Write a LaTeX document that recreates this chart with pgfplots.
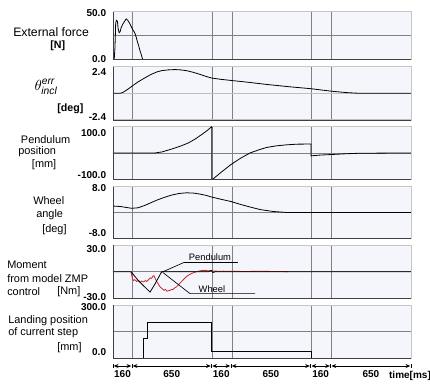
\documentclass[border=0pt]{standalone}
\usepackage{fontspec}
\setmainfont{Liberation Sans}
\usepackage{pgfplots}
\pgfplotsset{compat=1.18}
\usetikzlibrary{arrows.meta}
\definecolor{bgc}{RGB}{244,246,252}
\definecolor{gridc}{RGB}{128,128,128}
\definecolor{redc}{RGB}{200,40,40}
\pgfplotsset{
 panel/.style={
   scale only axis, width=223.5pt, xmin=0, xmax=2430,
   xtick={160,810,970,1620,1780}, xticklabels={}, yticklabels={},
   xmajorgrids, ymajorgrids,
   grid style={gridc, line width=0.5pt},
   major tick length=0pt,
   axis line style={draw=gray!45, line width=0.5pt},
   axis background/.style={fill=bgc},
   anchor=north west,
   after end axis/.code={\draw[black!75, line width=0.6pt] (rel axis cs:0,1) -- (rel axis cs:0,0) -- (rel axis cs:1,0);},
 },
 lab/.style n args={4}{
   after end axis/.append code={
     \node[anchor=east, inner sep=0pt, xshift=-5pt, yshift=#2, font=\fontsize{7.5}{8}\selectfont\bfseries] at (rel axis cs:0,0) {#1};
     \node[anchor=east, inner sep=0pt, xshift=-5pt, yshift=#4, font=\fontsize{7.5}{8}\selectfont\bfseries] at (rel axis cs:0,1) {#3};
   }},
 dl/.style={black, line width=0.6pt, no markers},
}
\begin{document}
\begin{tikzpicture}
% Panel 1: external force
\begin{axis}[panel, lab={0.0}{0pt}{50.0}{-1pt}, at={(84.75pt,-8.775pt)}, height=35.7pt, ymin=0, ymax=50,
  ytick={0,25,50}]
\addplot[dl] coordinates {(0,0)(10,0)(16,12)(22,38)(28,41)(36,40)(42,32)(50,28)(58,29)(66,33)(80,37)(95,40)(108,42.5)(120,41)(135,38)(150,34)(162,31)(172,29)(180,27)(192,22)(200,18)(208,15)(218,10)(228,6)(237,2)(242,0)};
\end{axis}
% Panel 2: theta err
\begin{axis}[panel, lab={-2.4}{1.9pt}{2.4}{-3.75pt}, at={(84.75pt,-50pt)}, height=40pt, ymin=-2.4, ymax=2.4,
  ytick={-2.4,0,2.4}, y grid style={gray!50, line width=1.1pt}]
\addplot[dl] coordinates {(0,0)(57,0)(80,0.08)(98,0.2)(125,0.4)(152,0.62)(200,1.0)(261,1.4)(310,1.7)(356,1.92)(400,2.05)(450,2.11)(506,2.14)(550,2.11)(600,2.04)(652,1.9)(700,1.74)(760,1.52)(803,1.38)(880,1.26)(962,1.16)(1100,1.0)(1253,0.8)(1450,0.58)(1612,0.42)(1700,0.3)(1775,0.2)(1900,0.07)(2014,0)(2430,0)};
\end{axis}
% Panel 3: pendulum position
\begin{axis}[panel, lab={-100.0}{3.2pt}{100.0}{-4.5pt}, at={(84.75pt,-95pt)}, height=39.45pt, ymin=-100, ymax=100,
  ytick={-100,0,100}]
\addplot[dl] coordinates {(0,0)(342,0)(400,4)(479,15)(550,26)(614,38)(670,53)(723,70)(770,86)(805,100)(805,-100)(813,-100)(880,-74)(962,-44)(1040,-20)(1117,0)(1190,12)(1253,21)(1330,27)(1416,31)(1500,33.5)(1615,34)(1615,-11)(1688,-8)(1775,-6)(1900,-3)(2014,-1)(2430,0)};
\end{axis}
% Panel 4: wheel angle
\begin{axis}[panel, lab={-8.0}{3.75pt}{8.0}{-1pt}, at={(84.75pt,-140pt)}, height=38.7pt, ymin=-8, ymax=8,
  ytick={-8,0,8}]
\addplot[dl] coordinates {(0,2.0)(60,1.85)(110,1.55)(152,1.3)(204,1.45)(260,2.2)(356,3.8)(420,4.7)(479,5.4)(540,5.9)(601,6.1)(660,6.0)(709,5.7)(760,5.3)(803,4.8)(880,4.1)(962,3.4)(1040,2.5)(1117,1.7)(1200,0.9)(1307,0.3)(1416,0)(2430,0)};
\end{axis}
% Panel 5: moment
\begin{axis}[panel, lab={-30.0}{1.3pt}{30.0}{-3pt}, at={(84.75pt,-183.75pt)}, height=40pt, ymin=-30, ymax=30,
  ytick={-30,0,30}]
\addplot[redc, line width=0.6pt, no markers] coordinates {(147,0)(155,-6)(166,-10)(178,-9)(193,-11)(210,-10)(222,-12)(234,-10.5)(250,-11.5)(265,-10)(275,-11)(290,-9)(305,-7)(316,-7.5)(325,-5)(334,-4.5)(345,-8)(356,-11)(370,-14)(383,-17)(400,-19)(416,-21)(428,-20)(440,-22)(452,-21.5)(465,-21)(478,-20)(489,-20)(505,-18)(519,-17)(533,-15)(546,-13)(560,-11)(573,-9)(588,-7)(603,-5)(615,-4)(628,-3)(650,-1.5)(682,0)(710,1)(736,1.5)(760,1.2)(791,1)(810,0.5)(832,0.8)(860,0.4)(900,0.6)(954,0.3)(1000,0.5)(1050,0.2)(1117,0.3)(1200,0.4)(1280,0.3)(1350,0.2)(1427,0)};
\addplot[dl] coordinates {(0,0)(147,0)(206,-10)(302,-23)(342,-14)(397,0)(780,0)(800,1.5)(815,-1)(835,0)(2430,0)};
\draw[black, line width=0.5pt] (axis cs:391,-1.1) -- (axis cs:579,10.4) -- (axis cs:1019,10.4);
\draw[black, line width=0.5pt] (axis cs:408,-1.1) -- (axis cs:628,-24.7) -- (axis cs:1158,-24.7);
\node[font=\fontsize{7}{8}\selectfont, inner sep=0pt] at (axis cs:791,16.3) {Pendulum};
\node[font=\fontsize{7}{8}\selectfont, inner sep=0pt] at (axis cs:807,-19.2) {Wheel};
\end{axis}
% Panel 6: landing position
\begin{axis}[panel, lab={0.0}{5pt}{300.0}{-1.9pt}, at={(84.75pt,-228.75pt)}, height=40pt, ymin=0, ymax=300,
  ytick={0,150,300}]
\addplot[dl] coordinates {(247,0)(247,113)(283,113)(283,203)(805,203)(805,41)(1615,41)(1615,0)};
\end{axis}
\begin{scope}[x=0.75pt,y=-0.75pt]
 \node[anchor=west, inner sep=0pt, font=\fontsize{9.2}{10}\selectfont] at (13,32) {External force};
 \node[anchor=west, inner sep=0pt, font=\fontsize{8}{9}\selectfont\bfseries] at (50,46) {[N]};
 \node[inner sep=0pt, font=\fontsize{11}{12}\selectfont] at (46,87) {$\theta^{\mathit{err}}_{\mathit{incl}}$};
 \node[anchor=west, inner sep=0pt, font=\fontsize{8}{9}\selectfont\bfseries] at (57,109) {[deg]};
 \begin{scope}[every node/.style={anchor=west, inner sep=0pt, font=\fontsize{8.2}{9}\selectfont}]
 \node at (20.7,140) {Pendulum};
 \node at (18,152) {position};
 \node at (31.7,165) {[mm]};
 \node at (33,201) {Wheel};
 \node at (36,215) {angle};
 \node at (42,230) {[deg]};
 \node at (7,265) {Moment};
 \node at (7,279) {from model ZMP};
 \node at (7,292) {control};
 \node at (57,292) {[Nm]};
 \node at (8,321) {Landing position};
 \node at (8,333) {of current step};
 \node at (57,348) {[mm]};
 \end{scope}
 \foreach \a/\b/\l in {113/132/160,132/211.5/650,211.5/231/160,231/310.7/650,310.7/330.7/160,330.7/411/650}{
   \draw[black, line width=0.5pt, {Stealth[length=3.5,width=3]}-{Stealth[length=3.5,width=3]}] (\a+0.8,366) -- (\b-0.8,366);
   \draw[black, line width=0.5pt] (\a,364) -- (\a,368);
   \node[inner sep=0pt, font=\fontsize{7.5}{8}\selectfont\bfseries] at ({(\a+\b)/2},374) {\l};
 }
 \draw[black, line width=0.5pt] (411,364) -- (411,368);
 \node[inner sep=0pt, font=\fontsize{7.5}{8}\selectfont\bfseries] at (410,375.5) {time[ms]};
 \pgfresetboundingbox
 \path (0,0) rectangle (430,387);
\end{scope}
\end{tikzpicture}
\end{document}
